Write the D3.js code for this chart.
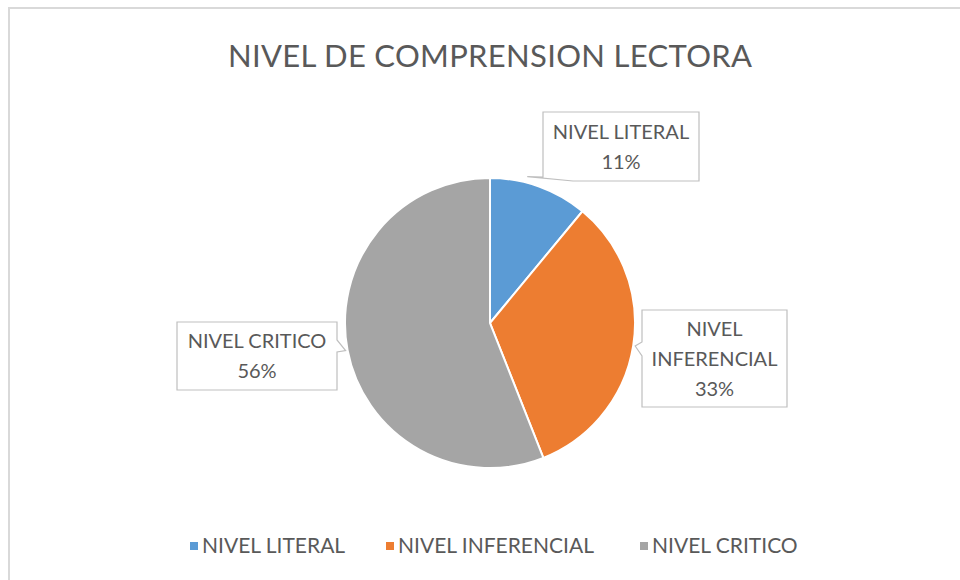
<!DOCTYPE html>
<html>
<head>
<meta charset="utf-8">
<script src="https://cdn.jsdelivr.net/npm/d3@7"></script>
<style>
  body { margin: 0; background: #fff; }
  text { font-family: Lato, "Open Sans", sans-serif; fill: #595959; }
</style>
</head>
<body>
<div id="chart"></div>
<script>
// data
var categories = ["NIVEL LITERAL", "NIVEL INFERENCIAL", "NIVEL CRITICO"];
var values = [11, 33, 56];
var colors = ["#5B9BD5", "#ED7D31", "#A5A5A5"];
// label lines as shown in callouts
var labelLines = [["NIVEL LITERAL"], ["NIVEL", "INFERENCIAL"], ["NIVEL CRITICO"]];

const width = 960, height = 580;
const cx = 490, cy = 323, radius = 145;

const svg = d3.select("#chart")
  .append("svg")
  .attr("width", width)
  .attr("height", height);

// chart border
svg.append("rect")
  .attr("x", 9).attr("y", 8)
  .attr("width", 970).attr("height", 600)
  .attr("fill", "#fff")
  .attr("stroke", "#d9d9d9")
  .attr("stroke-width", 2);

// title
svg.append("text")
  .attr("x", 490).attr("y", 67)
  .attr("text-anchor", "middle")
  .attr("font-size", "31px")
  .attr("textLength", 524)
  .text("NIVEL DE COMPRENSION LECTORA");

const pie = d3.pie().sort(null).value(d => d);
const arc = d3.arc().innerRadius(0).outerRadius(radius);
const arcs = pie(values);

const graph = svg.append("g")
  .attr("transform", `translate(${cx},${cy})`);

graph.selectAll("path")
  .data(arcs)
  .enter()
  .append("path")
  .attr("d", arc)
  .attr("fill", (d, i) => colors[i])
  .attr("stroke", "#fff")
  .attr("stroke-width", 2);

// callout boxes (positions from reference layout)
var boxes = [
  { x: 543, y: 112, w: 156, h: 69 },
  { x: 642, y: 310, w: 145, h: 97 },
  { x: 177, y: 322, w: 160, h: 68 }
];

arcs.forEach(function(d, i) {
  var b = boxes[i];
  var mid = (d.startAngle + d.endAngle) / 2;
  // anchor just outside the pie edge
  var ax = cx + Math.sin(mid) * (radius + 2);
  var ay = cy - Math.cos(mid) * (radius + 2);
  var g = svg.append("g");
  var path;
  if (i === 0) {
    // pointer from bottom-left corner
    ax = cx + Math.sin(d.startAngle + 0.25) * (radius + 6);
    ay = cy - Math.cos(d.startAngle + 0.25) * (radius + 6);
    path = `M${b.x},${b.y} H${b.x + b.w} V${b.y + b.h} H${b.x + 30} L${ax},${ay} L${b.x},${b.y + b.h - 4} Z`;
  } else if (i === 1) {
    var my = b.y + 38;
    path = `M${b.x},${b.y} H${b.x + b.w} V${b.y + b.h} H${b.x} V${my + 8} L${ax},${ay} L${b.x},${my - 6} Z`;
  } else {
    var my2 = b.y + 18;
    path = `M${b.x},${b.y} H${b.x + b.w} V${my2} L${ax},${ay} L${b.x + b.w},${my2 + 12} V${b.y + b.h} H${b.x} Z`;
  }
  g.append("path")
    .attr("d", path)
    .attr("fill", "#fff")
    .attr("stroke", "#bfbfbf")
    .attr("stroke-width", 1.2);

  var lines = labelLines[i].concat([values[i] + "%"]);
  var lh = 30;
  var startY = b.y + b.h / 2 - (lines.length - 1) * lh / 2 + 7;
  lines.forEach(function(t, j) {
    g.append("text")
      .attr("x", b.x + b.w / 2)
      .attr("y", startY + j * lh)
      .attr("text-anchor", "middle")
      .attr("font-size", "20px")
      .text(t);
  });
});

// legend
var legendX = [190, 386, 640];
var legend = svg.selectAll(".legend")
  .data(categories)
  .enter()
  .append("g")
  .attr("class", "legend")
  .attr("transform", (d, i) => `translate(${legendX[i]},546)`);

legend.append("rect")
  .attr("x", 0).attr("y", -4)
  .attr("width", 8).attr("height", 8)
  .attr("fill", (d, i) => colors[i]);

legend.append("text")
  .attr("x", 12).attr("y", 7)
  .attr("font-size", "21px")
  .text(d => d);
</script>
</body>
</html>
